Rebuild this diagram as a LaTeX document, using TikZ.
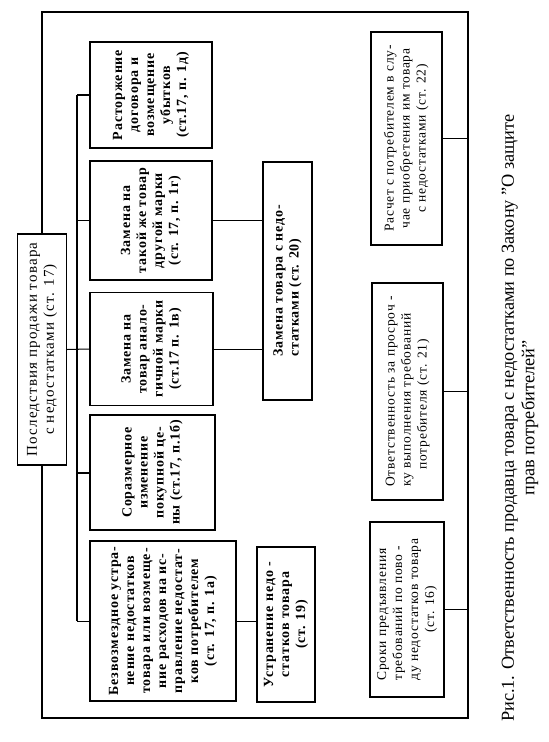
\documentclass[tikz,border=0pt]{standalone}
\usepackage{fontspec}
\setmainfont{Liberation Serif}
\newfontfamily\spacedfont[LetterSpace=6]{Liberation Serif}
\newfontfamily\widefont[LetterSpace=8]{Liberation Serif}
\newcommand{\vtext}[2]{\rotatebox{90}{\begin{tabular}{@{}#1@{}}#2\end{tabular}}}
\tikzset{
  bx/.style={draw, line width=1.2pt, inner sep=0pt, rectangle},
  boldtxt/.style={font=\spacedfont\bfseries\fontsize{14}{16}\selectfont},
  regtxt/.style={font=\spacedfont\fontsize{13.5}{16}\selectfont},
  link/.style={line width=1pt},
  brace/.style={line width=2pt}
}
\begin{document}
\begin{tikzpicture}[x=1pt,y=-1pt]
\path[use as bounding box] (0,0) rectangle (549,742);
% main box
\node[bx, minimum width=49pt, minimum height=231pt, font=\widefont\fontsize{15}{17}\selectfont] (main) at (42,349.5)
  {\vtext{c}{Последствия продажи товара\\с недостатками (ст. 17)}};
% column 1
\node[bx, boldtxt, minimum width=122pt, minimum height=106pt] (rast) at (151,95)
  {\vtext{c}{Расторжение\\договора и\\возмещение\\убытков\\(ст.17, п. 1д)}};
\node[bx, boldtxt, minimum width=122pt, minimum height=119pt] (takoy) at (151,220.5)
  {\vtext{c}{Замена на\\такой же товар\\другой марки\\(ст. 17, п. 1г)}};
\node[bx, boldtxt, minimum width=123pt, minimum height=113pt] (analog) at (151.5,349)
  {\vtext{c}{Замена на\\товар анало-\\гичной марки\\(ст.17 п. 1в)}};
\node[bx, boldtxt, minimum width=125pt, minimum height=115pt] (soraz) at (152.5,472.5)
  {\vtext{c}{Соразмерное\\изменение\\покупной це-\\ны (ст.17, п.1б)}};
\node[bx, boldtxt, minimum width=146pt, minimum height=160pt] (bezv) at (163,621)
  {\vtext{c}{Безвозмездное устра-\\нение недостатков\\товара или возмеще-\\ние расходов на ис-\\правление недостат-\\ков потребителем\\(ст. 17, п. 1а)}};
% column 2
\node[bx, boldtxt, minimum width=49pt, minimum height=238pt] (zam) at (287.5,281)
  {\vtext{l}{Замена товара с недо-\\статками (ст. 20)}};
\node[bx, boldtxt, minimum width=58pt, minimum height=155pt] (ustr) at (286,624.5)
  {\vtext{c}{Устранение недо -\\статков товара\\(ст. 19)}};
% right column
\node[bx, regtxt, minimum width=71pt, minimum height=213pt] (rasch) at (406.5,138.5)
  {\vtext{c}{Расчет с потребителем в слу-\\чае приобретения им товара\\с недостатками (ст. 22)}};
\node[bx, regtxt, minimum width=71pt, minimum height=217pt] (otv) at (407.5,391.5)
  {\vtext{l}{Ответственность за просроч -\\ку выполнения требований\\\hspace*{17pt}потребителя (ст. 21)}};
\node[bx, regtxt, minimum width=74pt, minimum height=175pt] (srok) at (407,609.5)
  {\vtext{l}{Сроки предъявления\\требований по пово -\\ду недостатков товара\\\multicolumn{1}{c}{(ст. 16)}}};
% caption
\node[font=\fontsize{18.3}{20.5}\selectfont] (cap) at (520,418)
  {\vtext{c}{Рис.1. Ответственность продавца товара с недостатками по Закону "О защите\\прав потребителей"}};
% frame
\coordinate (fr) at (468,0);
\coordinate (ftop) at (0,12);
\coordinate (fbot) at (0,718);
\draw[line width=1.2pt] (main.north) -- (main.north |- ftop) -- (fr |- ftop) -- (fr |- fbot) -- (main.south |- fbot) -- (main.south);
% bracket
\coordinate (bk) at (77,0);
\draw[brace] (rast.west -| bk) -- (bezv.west -| bk);
\draw[brace] (rast.west -| bk) -- (rast.west);
\draw[link] (takoy.west -| bk) -- (takoy.west);
\draw[link] (main.east) -- (analog.west);
\draw[brace] (soraz.west -| bk) -- (soraz.west);
\draw[link] (bezv.west -| bk) -- (bezv.west);
% column 2 links
\draw[link] (takoy.east) -- (takoy.east -| zam.west);
\draw[link] (analog.east) -- (analog.east -| zam.west);
\draw[link] (bezv.east) -- (bezv.east -| ustr.west);
% right links
\draw[link] (rasch.east) -- (rasch.east -| fr);
\draw[link] (otv.east) -- (otv.east -| fr);
\draw[link] (srok.east) -- (srok.east -| fr);
\end{tikzpicture}
\end{document}
